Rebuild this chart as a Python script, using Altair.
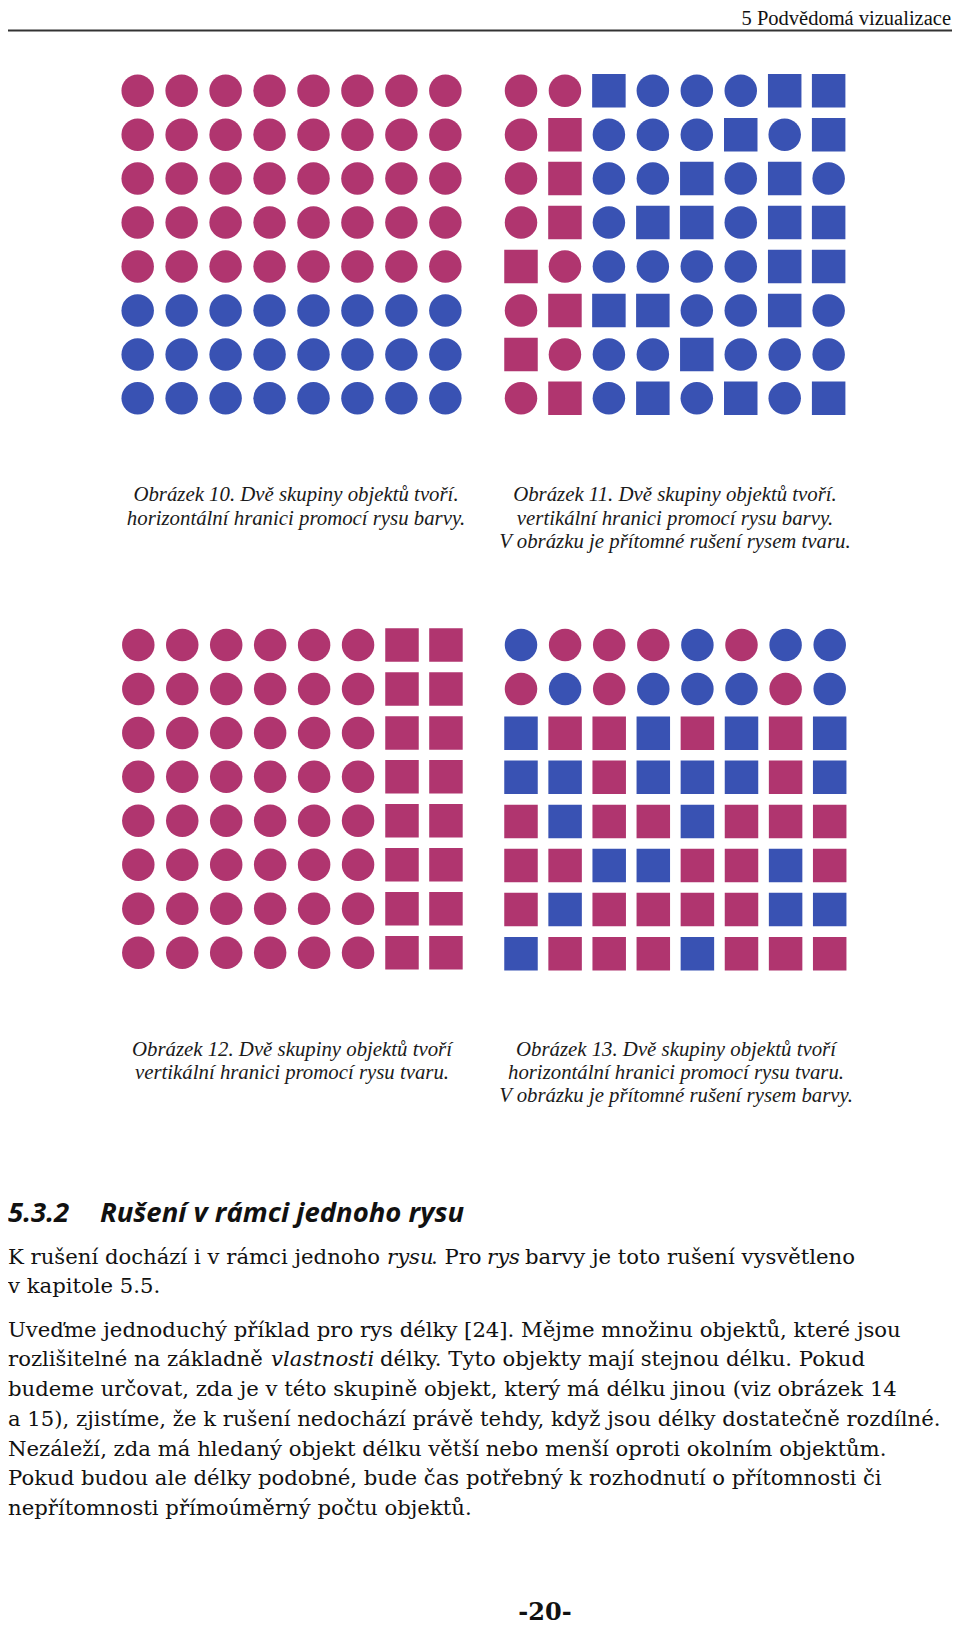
import altair as alt
import pandas as pd

# ---------------- data ----------------
MAG = "#b0356f"
BLUE = "#3952b3"

grid10_shapes = ["CCCCCCCC"] * 8
grid10_colors = ["MMMMMMMM"] * 5 + ["BBBBBBBB"] * 3

grid11_shapes = ["CCSCCCSS", "CSCCCSCS", "CSCCSCSC", "CSCSSCSS",
                 "SCCCCCSS", "CSSSCCSC", "SCCCSCCC", "CSCSCSCS"]
grid11_colors = ["MMBBBBBB"] * 8

grid12_shapes = ["CCCCCCSS"] * 8
grid12_colors = ["MMMMMMMM"] * 8

grid13_shapes = ["CCCCCCCC"] * 2 + ["SSSSSSSS"] * 6
grid13_colors = ["BMMMBMBB", "MBMBBBMB", "BMMBMBMB", "BBMBBBMB",
                 "MBMMBMMM", "MMBBMMBM", "MBMMMMBB", "BMMMBMMM"]

header_text = "5 Podvědomá vizualizace"
caption10 = ["Obrázek 10. Dvě skupiny objektů tvoří.", "horizontální hranici promocí rysu barvy."]
caption11 = ["Obrázek 11. Dvě skupiny objektů tvoří.", "vertikální hranici promocí rysu barvy.",
             "V obrázku je přítomné rušení rysem tvaru."]
caption12 = ["Obrázek 12. Dvě skupiny objektů tvoří", "vertikální hranici promocí rysu tvaru."]
caption13 = ["Obrázek 13. Dvě skupiny objektů tvoří", "horizontální hranici promocí rysu tvaru.",
             "V obrázku je přítomné rušení rysem barvy."]
heading_num = "5.3.2"
heading_text = "Rušení v rámci jednoho rysu"
body_lines = [
    [("K rušení dochází i v rámci jednoho", False), ("rysu", True), (". Pro", False), ("rys", True),
     ("barvy je toto rušení vysvětleno", False)],
    [("v kapitole 5.5.", False)],
    [("Uveďme jednoduchý příklad pro rys délky [24]. Mějme množinu objektů, které jsou", False)],
    [("rozlišitelné na základně", False), ("vlastnosti", True),
     ("délky. Tyto objekty mají stejnou délku. Pokud", False)],
    [("budeme určovat, zda je v této skupině objekt, který má délku jinou (viz obrázek 14", False)],
    [("a 15), zjistíme, že k rušení nedochází právě tehdy, když jsou délky dostatečně rozdílné.", False)],
    [("Nezáleží, zda má hledaný objekt délku větší nebo menší oproti okolním objektům.", False)],
    [("Pokud budou ale délky podobné, bude čas potřebný k rozhodnutí o přítomnosti či", False)],
    [("nepřítomnosti přímoúměrný počtu objektů.", False)],
]
page_number = "-20-"

# ---------------- layout (pixels, chart coords) ----------------
W, H = 944, 1619
SP = 43.95
body_x = [[0, 379, 423, 479, 517], [0], [0], [0, 263, 372], [0], [0], [0], [0], [0]]
body_y = [1250, 1279, 1323, 1352, 1382, 1412, 1442, 1471, 1501]


def build(shape_rows, color_rows):
    recs = []
    for r, (srow, crow) in enumerate(zip(shape_rows, color_rows)):
        for c, (s, col) in enumerate(zip(srow, crow)):
            recs.append({"row": r, "col": c, "shape": s, "color": col})
    return pd.DataFrame(recs)


def grid_layer(df, x0, y0, sp=SP):
    dx = [-x0 / sp, (W - x0) / sp]
    dy = [-y0 / sp, (H - y0) / sp]
    return alt.Chart(df).mark_point(filled=True, opacity=1, strokeWidth=0).encode(
        x=alt.X("col:Q", scale=alt.Scale(domain=dx, nice=False, zero=False), axis=None),
        y=alt.Y("row:Q", scale=alt.Scale(domain=dy, nice=False, zero=False, reverse=True), axis=None),
        shape=alt.Shape("shape:N", scale=alt.Scale(domain=["C", "S"], range=["circle", "square"]), legend=None),
        size=alt.Size("shape:N", scale=alt.Scale(domain=["C", "S"], range=[1056, 1122]), legend=None),
        color=alt.Color("color:N", scale=alt.Scale(domain=["M", "B"], range=[MAG, BLUE]), legend=None),
    )


def txt(s, x, y, size, font="Liberation Serif", style="normal", weight="normal",
        align="left", baseline="middle", color="#111111"):
    return alt.Chart(pd.DataFrame({"t": [s]})).mark_text(
        font=font, fontSize=size, fontStyle=style, fontWeight=weight,
        align=align, baseline=baseline, color=color,
    ).encode(x=alt.value(x), y=alt.value(y), text="t:N")


layers = [
    grid_layer(build(grid10_shapes, grid10_colors), 129.7, 82.7),
    grid_layer(build(grid11_shapes, grid11_colors), 513.0, 82.7),
    grid_layer(build(grid12_shapes, grid12_colors), 130.3, 637.0),
    grid_layer(build(grid13_shapes, grid13_colors), 513.0, 637.0, 44.1),
]

# header
layers.append(txt(header_text, 943, 0.5, 20.5, align="right", baseline="top"))
layers.append(alt.Chart(pd.DataFrame({"a": [0]})).mark_rule(color="#333333", strokeWidth=2).encode(
    x=alt.value(0), x2=alt.value(944), y=alt.value(22.5)))

# captions
cap_style = dict(size=20.8, style="italic", align="center", color="#1a1a1a")
for lines, cx, ys in [(caption10, 288, [487, 511]), (caption11, 667, [487, 511, 534]),
                      (caption12, 284, [1042, 1065]), (caption13, 668, [1042, 1065, 1088])]:
    for line, yy in zip(lines, ys):
        layers.append(txt(line, cx, yy, **cap_style))

# heading
layers.append(txt(heading_num, 0, 1206, 27.5, font="Open Sans", style="italic", weight="bold"))
layers.append(txt(heading_text, 92, 1206, 27.5, font="Open Sans", style="italic", weight="bold"))

# body
for segs, xs, yy in zip(body_lines, body_x, body_y):
    for (s, it), xx in zip(segs, xs):
        layers.append(txt(s, xx, yy, 21.2, font="DejaVu Serif", style="italic" if it else "normal"))

# page number
layers.append(txt(page_number, 537, 1605, 24, font="DejaVu Serif", weight="bold", align="center"))

chart = alt.layer(*layers).resolve_scale(x="independent", y="independent").properties(
    width=W, height=H, padding=0, autosize="none"
).configure_view(stroke=None)

chart.save("out.html", embed_options={"renderer": "svg", "actions": False})
